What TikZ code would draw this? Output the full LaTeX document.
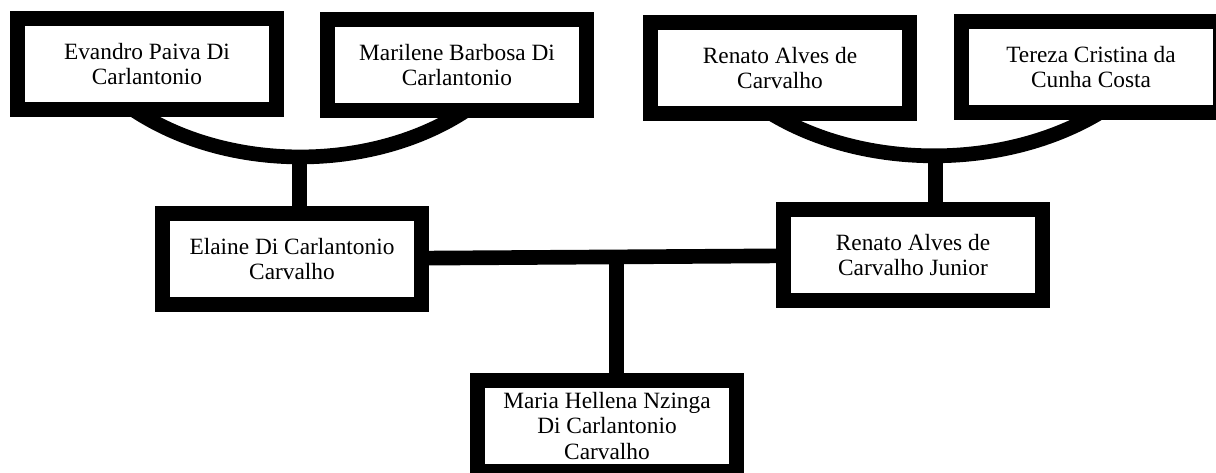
\documentclass[tikz,border=0pt]{standalone}
\usepackage{fontspec}
\setmainfont{Liberation Serif}
\usetikzlibrary{backgrounds,calc}

\tikzset{
  pessoa/.style={draw, line width=11.25pt, fill=white, inner sep=0pt,
    minimum width=194pt, minimum height=68pt, align=center,
    font=\fontsize{17.5}{19}\selectfont},
  ligacao/.style={line width=11pt}
}

\begin{document}
\begin{tikzpicture}[x=0.75pt,y=-0.75pt]
\useasboundingbox (0,0) rectangle (1216,473);

% Grandparents
\node[pessoa] (evandro) at (147,64) {Evandro Paiva Di\\Carlantonio};
\node[pessoa] (marilene) at (457,65) {Marilene Barbosa Di\\Carlantonio};
\node[pessoa] (renato) at (780,68) {Renato Alves de\\Carvalho};
\node[pessoa] (tereza) at (1091,67) {Tereza Cristina da\\Cunha Costa};

% Parents
\node[pessoa] (elaine) at (292,259) {Elaine Di Carlantonio\\Carvalho};
\node[pessoa] (junior) at (913,255) {Renato Alves de\\Carvalho Junior};

% Daughter
\node[pessoa] (maria) at (607,426) {Maria Hellena Nzinga\\Di Carlantonio\\Carvalho};

% Links (behind the boxes)
\begin{scope}[on background layer]
\draw[ligacao] ($(evandro.south)+(-15,-8)$) .. controls +(95,64) and +(-95,63) .. ($(marilene.south)+(10,-8)$) coordinate[pos=0.5] (casal1);
\draw[ligacao] (casal1) -- (casal1 |- elaine.north);

\draw[ligacao] ($(renato.south)+(-10,-8)$) .. controls +(95,58) and +(-95,58) .. ($(tereza.south)+(10,-8)$) coordinate[pos=0.5] (casal2);
\draw[ligacao] (casal2) -- (casal2 |- junior.north);

\draw[ligacao] (elaine) -- (junior) coordinate[pos=0.54] (casal3);
\draw[ligacao] (casal3) -- (casal3 |- maria.north);
\end{scope}
\end{tikzpicture}
\end{document}
